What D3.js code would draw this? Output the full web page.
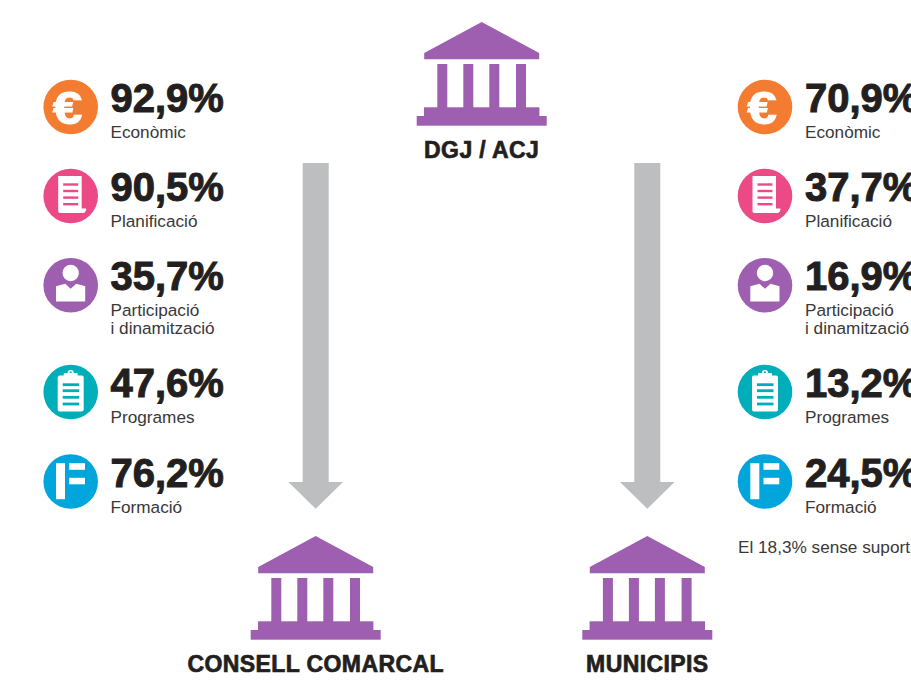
<!DOCTYPE html>
<html><head><meta charset="utf-8">
<script src="https://cdn.jsdelivr.net/npm/d3@7"></script>
<style>html,body{margin:0;padding:0;background:#fff;overflow:hidden}svg{display:block}
text{font-family:"Liberation Sans",Arial,sans-serif}</style></head>
<body><svg id="c" width="911" height="683"></svg>
<script>
const categories = ["Econòmic","Planificació","Participació|i dinamització","Programes","Formació"];
const consellValues = ["92,9%","90,5%","35,7%","47,6%","76,2%"];
const municipisValues = ["70,9%","37,7%","16,9%","13,2%","24,5%"];
const institutions = ["DGJ / ACJ","CONSELL COMARCAL","MUNICIPIS"];
const footnote = "El 18,3% sense suport";
const iconKinds = ["euro","doc","person","clip","form"];
const iconColors = ["#f47c30","#ec4a87","#9e5fb0","#00aeb9","#00a5dc"];

const svg = d3.select("#c");
const ink = "#231f20";
const rowY = d3.scaleOrdinal(categories,[107,196,285.3,392,481.5]);
const colour = d3.scaleOrdinal(categories,iconColors);
const kind = d3.scaleOrdinal(categories,iconKinds);
const instX = d3.scaleOrdinal(institutions,[481.7,315.7,647.3]);
const instTop = d3.scaleOrdinal(institutions,[22,536,536]);

function icon(g,k,c){
  g.append("circle").attr("r",27.3).attr("fill",c);
  const w=(x,y,wd,h,r=0)=>g.append("rect").attr("x",x).attr("y",y).attr("width",wd).attr("height",h).attr("rx",r).attr("fill","#fff");
  const l=(x,y,wd,h)=>g.append("rect").attr("x",x).attr("y",y).attr("width",wd).attr("height",h).attr("fill",c);
  if(k==="euro"){
    g.append("text").attr("transform","translate(-3,16.5) scale(1.16,1)").attr("text-anchor","middle").attr("font-size",46).attr("font-weight",700).attr("fill","#fff").attr("stroke","#fff").attr("stroke-width",1).text("€");
  } else if(k==="doc"){
    g.append("path").attr("fill","#fff").attr("d","M-12.5,-20H11V12.5H15.5C15.5,15 14.5,17 12,17H-10.5C-11.8,17 -12.5,16 -12.5,15Z");
    [-11.5,-5,1.6,8.2].forEach(y=>l(-7.5,y-1.2,15,2.4));
  } else if(k==="person"){
    g.append("path").attr("fill","#fff").attr("d","M-14.7,16.2V1L-5.5,-1.5L0,3.5L5.5,-1.5L14.5,1V16.2Z");
    g.append("circle").attr("cy",-12.3).attr("r",8.2).attr("fill","#fff");
  } else if(k==="clip"){
    w(-13,-16.5,26,36,2);
    w(-7,-19,14,5,1); w(-3,-22,6,5,2.5);
    l(-1,-20.5,2,1.5);
    [-7.3,-1.3,5.3,12].forEach(y=>l(-8,y-1.4,16.5,2.8));
  } else {
    w(-14.7,-18.3,9,36); w(-1.5,-18.3,15.8,6.6); w(-1.5,-3.7,15.8,6.5);
  }
}

function column(cx,tx,values){
  categories.forEach((cat,i)=>{
    const y=rowY(cat);
    icon(svg.append("g").attr("transform",`translate(${cx},${y})`),kind(cat),colour(cat));
    svg.append("text").attr("x",tx).attr("y",y+5).attr("font-size",40).attr("font-weight",700)
      .attr("fill",ink).attr("stroke",ink).attr("stroke-width",1).text(values[i]);
    cat.split("|").forEach((t,j)=>svg.append("text").attr("x",tx).attr("y",y+31+j*18).attr("font-size",17.2)
      .attr("fill","#3a3839").text(t));
  });
}
column(70.7,110.5,consellValues);
column(765,805,municipisValues);

svg.append("text").attr("x",738).attr("y",553).attr("font-size",17.2).attr("fill","#3a3839").text(footnote);

// arrows
[instX(institutions[1]),instX(institutions[2])].forEach(cx=>{
  svg.append("path").attr("fill","#bcbec0")
    .attr("d",`M${cx-13},163H${cx+13}V482H${cx+27.3}L${cx},508.8L${cx-27.3},482H${cx-13}Z`);
});

// buildings
institutions.forEach(name=>{
  const g=svg.append("g").attr("transform",`translate(${instX(name)},${instTop(name)})`).attr("fill","#9e5fb0");
  g.append("path").attr("d","M0,0L57.5,31V37.3H-57.5V31Z");
  [-44.4,-18.4,7.6,34.3].forEach(x=>g.append("rect").attr("x",x).attr("y",42).attr("width",10).attr("height",44));
  g.append("rect").attr("x",-57.7).attr("y",85.3).attr("width",115.4).attr("height",9);
  g.append("rect").attr("x",-65).attr("y",94).attr("width",130).attr("height",9.7);
  g.append("text").attr("y",136).attr("text-anchor","middle").attr("font-size",23).attr("font-weight",700).attr("letter-spacing",0.4)
    .attr("fill",ink).attr("stroke",ink).attr("stroke-width",0.7).text(name);
});
</script></body></html>
